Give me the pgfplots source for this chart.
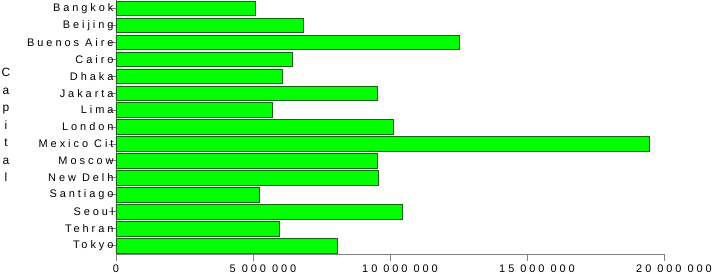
\documentclass[border=0pt]{standalone}
\usepackage{fontspec}
\setmainfont{Liberation Sans}
\newfontfamily\spaced{Liberation Sans}[LetterSpace=27]
\usepackage{pgfplots}
\usepackage{pgfplotstable}
\pgfplotsset{compat=1.18}

% idx 14 = top (Bangkok), idx 0 = bottom (Tokyo)
\pgfplotstableread{
idx value
14 5100000
13 6820000
12 12530000
11 6420000
10 6060000
9 9530000
8 5690000
7 10110000
6 19470000
5 9530000
4 9560000
3 5220000
2 10450000
1 5960000
0 8080000
}\data

\begin{document}
\begin{tikzpicture}
\begin{axis}[
  scale only axis, width=548bp, height=254bp,
  xbar, bar width=0.86,
  xmin=0, xmax=20000000,
  ymin=-0.5, ymax=14.5,
  ytick={0,...,14},
  yticklabels={Tokyo,Tehran,Seoul,Santiago,New Delh,Moscow,Mexico Cit,London,Lima,Jakarta,Dhaka,Cairo,Buenos Aire,Beijing,Bangkok},
  xtick={0,5000000,10000000,15000000,20000000},
  xticklabels={0,\hspace*{20bp}5 000 000,\hspace*{20bp}10 000 000,\hspace*{20bp}15 000 000,\hspace*{20bp}20 000 000},
  scaled x ticks=false,
  axis x line*=bottom, axis y line*=left,
  axis line style={gray, line width=0.8bp, -},
  tick style={gray, line width=0.8bp},
  tick align=outside,
  major tick length=7bp,
  y tick label style={font=\spaced\fontsize{11}{13}\selectfont, anchor=east, xshift=8bp},
  x tick label style={font=\spaced\fontsize{11}{13}\selectfont},
  ylabel={C\\a\\p\\i\\t\\a\\l},
  every axis y label/.style={at={(axis description cs:0,0.508)}, anchor=center, xshift=-110bp, align=center, font=\fontsize{12}{17.5}\selectfont},
]
\addplot[fill={rgb,255:red,0;green,255;blue,0}, draw={rgb,255:red,20;green,100;blue,20}, line width=0.6bp] table[x=value,y=idx]{\data};
\end{axis}
\pgfresetboundingbox
\path (-116bp,-20bp) rectangle (598bp,254bp);
\end{tikzpicture}
\end{document}
